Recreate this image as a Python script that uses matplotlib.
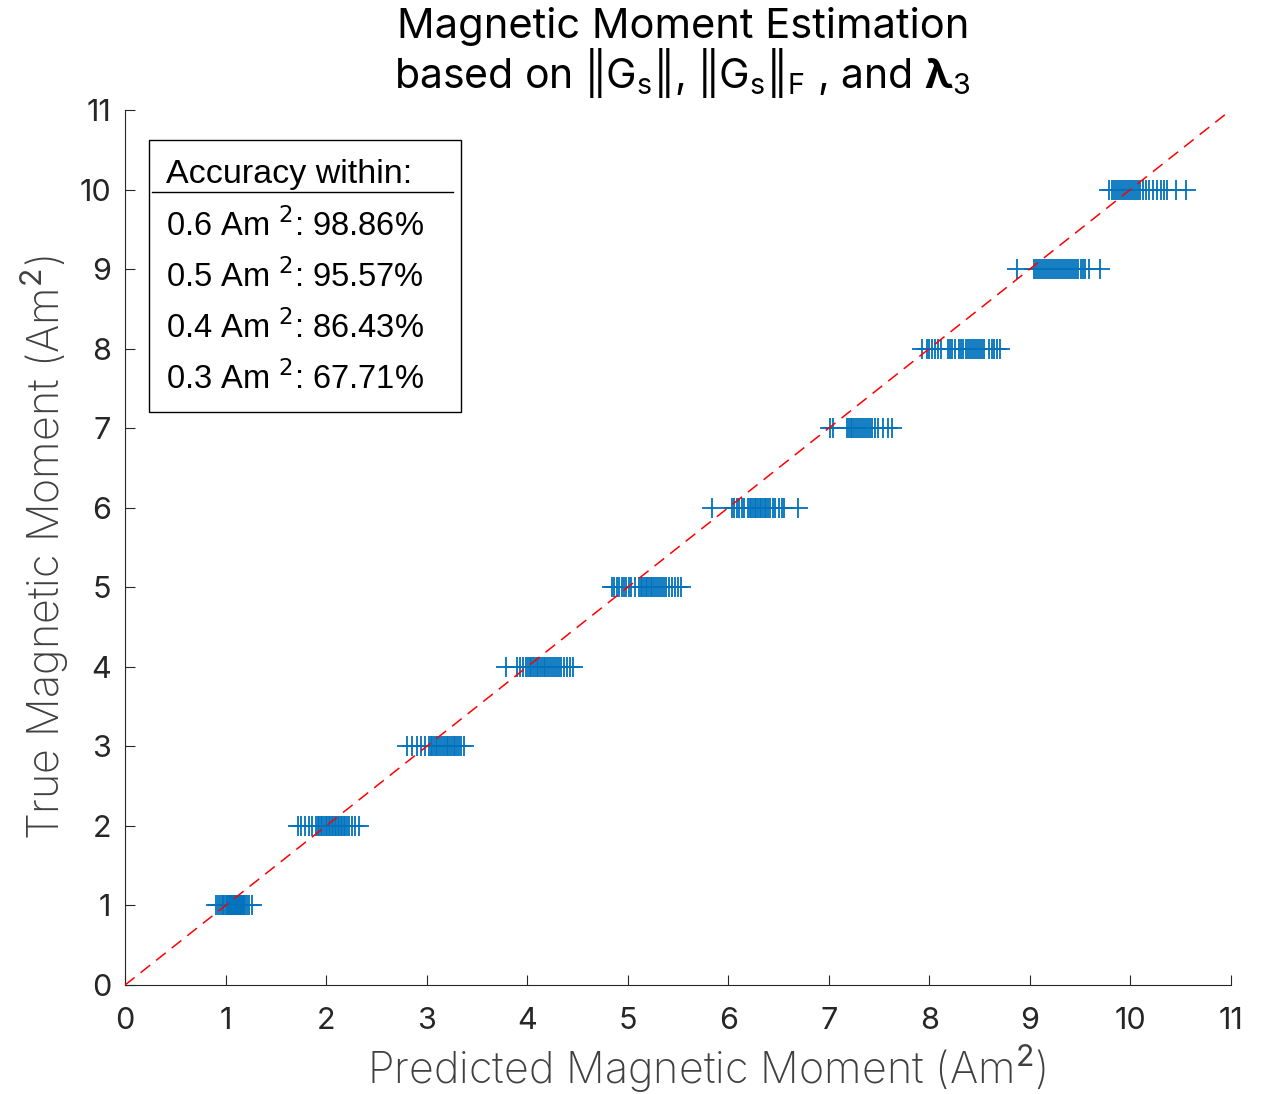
import matplotlib
matplotlib.use("Agg")
import matplotlib.pyplot as plt
from matplotlib.lines import Line2D

# Custom mathtext so sub/superscripts match the sans text
plt.rcParams["mathtext.fontset"] = "custom"
plt.rcParams["mathtext.rm"] = "Inter"
plt.rcParams["mathtext.it"] = "Inter:italic"
plt.rcParams["mathtext.bf"] = "Inter:bold"
plt.rcParams["font.family"] = ["Inter", "DejaVu Sans"]

# True magnetic moments (Am^2) and the model's predictions for each
true_moments = [1, 2, 3, 4, 5, 6, 7, 8, 9, 10]

pred_1 = [0.91, 0.93, 0.94, 0.96, 0.97, 0.98, 1.00, 1.01, 1.02, 1.03, 1.04,
          1.05, 1.06, 1.07, 1.08, 1.09, 1.10, 1.11, 1.12, 1.13, 1.14, 1.15,
          1.16, 1.17, 1.18, 1.19, 1.21, 1.23, 1.26]
pred_2 = [1.72, 1.75, 1.79, 1.83, 1.86, 1.90, 1.92, 1.93, 1.95, 1.96, 1.98,
          2.00, 2.01, 2.03, 2.04, 2.06, 2.07, 2.09, 2.10, 2.12, 2.13, 2.15,
          2.16, 2.18, 2.19, 2.21, 2.23, 2.26, 2.29, 2.33]
pred_3 = [2.80, 2.85, 2.90, 2.94, 2.98, 3.02, 3.04, 3.05, 3.07, 3.09, 3.10,
          3.12, 3.14, 3.16, 3.18, 3.20, 3.21, 3.23, 3.25, 3.27, 3.28, 3.30,
          3.32, 3.34, 3.37]
pred_4 = [3.79, 3.90, 3.93, 3.96, 3.99, 4.01, 4.03, 4.04, 4.06, 4.08, 4.10,
          4.11, 4.13, 4.15, 4.17, 4.18, 4.20, 4.22, 4.24, 4.26, 4.28, 4.30,
          4.32, 4.34, 4.37, 4.40, 4.43, 4.46]
pred_5 = [4.84, 4.86, 4.89, 4.91, 4.94, 4.96, 4.98, 5.01, 5.03, 5.07, 5.11,
          5.13, 5.14, 5.16, 5.18, 5.19, 5.21, 5.23, 5.24, 5.26, 5.28, 5.30,
          5.32, 5.34, 5.36, 5.38, 5.41, 5.44, 5.47, 5.50, 5.53]
pred_6 = [5.84, 6.04, 6.06, 6.09, 6.11, 6.14, 6.16, 6.20, 6.22, 6.23, 6.25,
          6.27, 6.28, 6.30, 6.32, 6.33, 6.35, 6.37, 6.38, 6.40, 6.42, 6.45,
          6.47, 6.50, 6.53, 6.55, 6.69]
pred_7 = [7.01, 7.04, 7.18, 7.20, 7.22, 7.23, 7.25, 7.27, 7.29, 7.31, 7.33,
          7.35, 7.37, 7.39, 7.41, 7.43, 7.46, 7.49, 7.54, 7.59, 7.63]
pred_8 = [7.93, 7.98, 8.00, 8.03, 8.06, 8.09, 8.12, 8.19, 8.21, 8.23, 8.26,
          8.30, 8.32, 8.34, 8.36, 8.38, 8.40, 8.42, 8.44, 8.46, 8.48, 8.50,
          8.52, 8.54, 8.59, 8.62, 8.64, 8.67, 8.70]
pred_9 = [8.87, 9.04, 9.06, 9.08, 9.10, 9.12, 9.14, 9.16, 9.18, 9.20, 9.22,
          9.24, 9.26, 9.28, 9.30, 9.32, 9.34, 9.36, 9.38, 9.40, 9.42, 9.44,
          9.46, 9.48, 9.51, 9.53, 9.55, 9.59, 9.70]
pred_10 = [9.79, 9.82, 9.84, 9.86, 9.88, 9.90, 9.92, 9.94, 9.96, 9.98, 10.00,
           10.02, 10.04, 10.06, 10.08, 10.10, 10.13, 10.16, 10.19, 10.22,
           10.26, 10.30, 10.33, 10.36, 10.45, 10.55]
predictions = [pred_1, pred_2, pred_3, pred_4, pred_5,
               pred_6, pred_7, pred_8, pred_9, pred_10]

tolerances = ["0.6", "0.5", "0.4", "0.3"]
accuracies = ["98.86%", "95.57%", "86.43%", "67.71%"]

axis_ticks = list(range(0, 12))
axis_lim = [0, 11]

BLUE = "#0072BD"
AXIS_GRAY = "#262626"
W, H = 1269, 1094

fig = plt.figure(figsize=(W / 100, H / 100), dpi=100)
ax = fig.add_axes([0.0985, 0.0996, 0.8715, 0.7999])

# Identity reference line
ax.plot(axis_lim, axis_lim, color="red", linestyle=(0, (8, 5)), linewidth=1.1,
        zorder=3)

for true_val, preds in zip(true_moments, predictions):
    ax.plot(preds, [true_val] * len(preds), linestyle="none", marker="+",
            markersize=14, markeredgewidth=1.3, color=BLUE, zorder=2)

ax.set_xlim(axis_lim)
ax.set_ylim(axis_lim)
ax.set_xticks(axis_ticks)
ax.set_yticks(axis_ticks)
ax.tick_params(direction="in", length=7, width=0.8, colors=AXIS_GRAY,
               labelsize=22)
ax.tick_params(axis="x", pad=16)
ax.tick_params(axis="y", pad=10)
for side in ("top", "right"):
    ax.spines[side].set_visible(False)
for side in ("left", "bottom"):
    ax.spines[side].set_color(AXIS_GRAY)
    ax.spines[side].set_linewidth(0.8)

ax.set_xlabel(r"Predicted Magnetic Moment (Am$^2$)", fontsize=31,
              color="#404040", fontweight="light", va="top")
ax.xaxis.set_label_coords(0.526, -0.066)
ax.set_ylabel(r"True Magnetic Moment (Am$^2$)", fontsize=31,
              color="#404040", fontweight="light", labelpad=6)

fig.text(0.538, 1 - 38 / H, "Magnetic Moment Estimation", ha="center",
         va="baseline", fontsize=30, color="black")
norm_gs = r"|\!|G_s|\!|"
fig.text(0.538, 1 - 88 / H,
         r"based on $\mathrm{" + norm_gs + r"}$, $\mathrm{" + norm_gs
         + r"_F}$ , and $\mathbf{\lambda}_3$",
         ha="center", va="baseline", fontsize=29.5, color="black")

# Accuracy summary box
box_x0, box_y0, box_x1, box_y1 = 149, 140, 461, 412
rect = plt.Rectangle((box_x0 / W, 1 - box_y1 / H), (box_x1 - box_x0) / W,
                     (box_y1 - box_y0) / H, transform=fig.transFigure,
                     facecolor="white", edgecolor="black", linewidth=1.0,
                     zorder=5)
fig.patches.append(rect)
fig.text(166 / W, 1 - 174 / H, "Accuracy within:", ha="left", va="center",
         fontsize=24.5, family="Liberation Sans", zorder=6)
fig.add_artist(Line2D([152 / W, 453 / W], [1 - 192 / H, 1 - 192 / H],
                      transform=fig.transFigure, color="black", linewidth=1.0,
                      zorder=6))
for i, (tol, acc) in enumerate(zip(tolerances, accuracies)):
    y = 226 + i * 51
    fig.text(166 / W, 1 - y / H, f"{tol} Am $^2$: {acc}", ha="left",
             va="center", fontsize=23.5, family="Liberation Sans",
             math_fontfamily="dejavusans", zorder=6)

fig.savefig("out.png", dpi=100)
